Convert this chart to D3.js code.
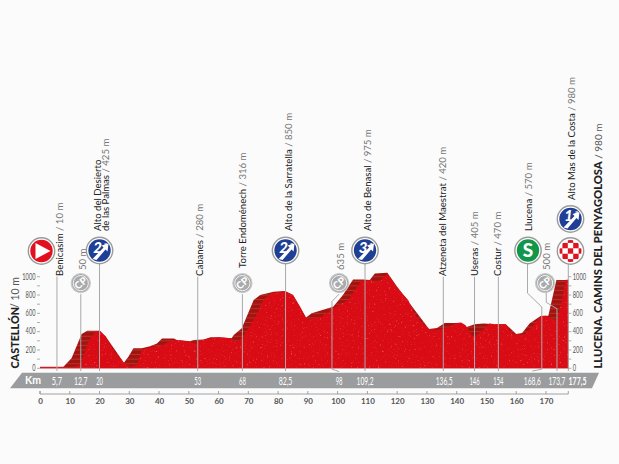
<!DOCTYPE html>
<html><head><meta charset="utf-8">
<script src="https://cdn.jsdelivr.net/npm/d3@7"></script>
<style>html,body{margin:0;padding:0;background:#fbfbfb}svg{display:block}text{font-family:Lato,"Open Sans",sans-serif}</style>
</head><body><div id="c"></div>
<script>
const frontKm=[0,8,11.2,13.4,14.6,15.9,17,18.5,20,22,24.8,26.5,28.2,30.4,32.5,33.3,34.2,37,41.4,43.7,46,50.4,52,53.3,55.4,60,64.4,66,67.8,70,73.3,75,77.8,82.3,85,87.4,89.4,91.3,94.6,98.5,103.6,105.8,108,110.8,113.6,116.7,119.7,123.7,126,127.4,130.7,133.4,136.5,140,141.5,143,145.5,148,151,153,156.5,158.8,162.6,165,168.2,170,173.7,175,176.6,177.5];
const frontElev=[10,10,12,35,120,270,330,390,415,350,190,125,60,20,35,110,205,230,255,300,310,290,270,290,316,338,327,283,327,436,618,745,818,845,800,673,545,545,563,655,745,855,956,964,945,1036,890,745,582,530,430,420,440,495,500,470,340,400,490,480,480,375,365,440,570,575,520,700,965,970];
const backKm=[0,7.8,10.6,14,15.9,19.6,22,28.2,29.7,31.4,34.2,37,39.3,41,45,46,50.4,51.7,55,57.3,60,64.4,65.1,67.8,71.8,74,78.5,82.3,85,89.4,91.3,98.5,101.8,105.2,108.5,110.8,112.5,116.7,120,130.7,133.4,136,139,141,143,146,149,153,156.5,160,162,164.5,168.2,170.8,173.5,177.5];
const backElev=[10,15,110,375,410,410,350,60,125,220,220,240,270,325,325,310,295,310,315,340,338,327,364,436,745,800,836,845,800,555,600,673,800,970,970,964,1036,1043,890,430,440,495,495,495,445,480,490,480,480,375,385,490,570,575,965,965];
const yTicks=[0,200,400,600,800,1000];
const yMinor=[100,300,500,700,900];
const xTicks=[0,10,20,30,40,50,60,70,80,90,100,110,120,130,140,150,160,170];
const placeNames=["Benicasim","Cabanes","Torre Endoménech","Alto de la Sarratella","Alto de Benasal","Atzeneta del Maestrat","Useras","Costur","Llucena","Alto Mas de la Costa"];
const placeHeights=["10 m","280 m","316 m","850 m","975 m","420 m","405 m","470 m","570 m","980 m"];
const placeKm=[5.7,53,68,82.5,109.2,136.5,146,154,168.6,177.5];
const placeBase=[276,276,268,231,231,276,276,276,231,200];
const placeDx=[6,5,4,6,6,0,3,3,-10.3,7];
const bandLabels=["5,7","12,7","20","53","68","82,5","98","109,2","136,5","146","154","168,6","173,7"];
const bandKm=[5.7,13.7,20,53,68,82.5,100.5,109.2,135.8,146,154,165.4,173.7];
const plainLines=[[5.7,1000],[13.7,810],[20,1170],[53,1000],[68,810],[82.5,1170],[109.2,1170],[135.5,1000],[146,1000],[154,1000],[173.7,650],[177.5,1170]];
const elbowLines=[
 [[100.5,810],[98.1,730],[98.1,-10],[100.5,-35]],
 [[163.8,1170],[163.8,820],[168.6,670],[168.6,-10],[165.4,-30]],
 [[170.1,830],[170.1,720],[173.7,650]]
];
const cpBadges=[13.7,68,100.5,169.7];
const catBadges=[[20,"2"],[82.5,"2"],[109.2,"3"]];

const W=619,H=464;
const x=d3.scaleLinear().domain([0,177.5]).range([40,568.3]);
const y=d3.scaleLinear().domain([0,1000]).range([368.3,276.7]);
const svg=d3.select("#c").append("svg").attr("width",W).attr("height",H);
const defs=svg.append("defs");
const area=d3.area().x(d=>x(d[0])).y0(y(0)).y1(d=>y(d[1]));
const front=frontKm.map((k,i)=>[k,frontElev[i]]);
const back=backKm.map((k,i)=>[k,backElev[i]]);
defs.append("clipPath").attr("id","bk").append("path").attr("d",area(back));
defs.append("clipPath").attr("id","fr").append("path").attr("d",area(front));
const f=defs.append("filter").attr("id","sp").attr("x",0).attr("y",0).attr("width",1).attr("height",1);
f.append("feTurbulence").attr("type","fractalNoise").attr("baseFrequency",0.55).attr("numOctaves",2).attr("seed",4);
f.append("feColorMatrix").attr("type","matrix").attr("values","0 0 0 0 1  0 0 0 0 .6  0 0 0 0 .6  2.2 2.2 0 0 -2.6");

// band
svg.append("path").attr("d",d3.line()([[22,372.7],[599,372.7],[592,388.3],[10,388.3]])+"Z").attr("fill","#9a9c9e");

// profile
svg.append("path").attr("d",area(back)).attr("fill","#a3130f");
svg.append("g").attr("clip-path","url(#bk)").selectAll("line").data(d3.range(50,1050,50)).join("line")
 .attr("x1",40).attr("x2",568.3).attr("y1",d=>y(d)).attr("y2",d=>y(d)).attr("stroke","#c25a4e").attr("stroke-width",.5);
svg.append("path").attr("d",area(front)).attr("fill","#d90c15");
svg.append("g").attr("clip-path","url(#fr)").append("rect").attr("x",40).attr("y",270).attr("width",530).attr("height",99).attr("filter","url(#sp)").attr("opacity",.4);
svg.append("line").attr("x1",40).attr("x2",95).attr("y1",y(10)).attr("y2",y(10)).attr("stroke","#c8202a").attr("stroke-width",1.2);

// leader lines
const lg=svg.append("g").attr("fill","none").attr("stroke","#a8a9ab").attr("stroke-width",1);
lg.selectAll("line").data(plainLines).join("line")
 .attr("x1",d=>x(d[0])).attr("x2",d=>x(d[0])).attr("y1",d=>y(d[1])).attr("y2",y(-30));
lg.selectAll("path").data(elbowLines).join("path")
 .attr("d",d=>d3.line().x(p=>x(p[0])).y(p=>y(p[1]))(d));

// y axes
function yAxis(x0,side){
 const g=svg.append("g").attr("stroke","#8d8e90").attr("stroke-width",.7);
 g.selectAll("line").data(yTicks.concat(yMinor)).join("line").attr("x1",x0).attr("x2",x0+side*3).attr("y1",d=>y(d)).attr("y2",d=>y(d));
 svg.append("g").selectAll("text").data(yTicks).join("text").attr("x",x0+side*4.5).attr("y",d=>y(d)+2.8)
  .attr("text-anchor",side<0?"end":"start").attr("font-size",8.5).attr("fill","#555")
  .attr("textLength",d=>String(d).length*3.3).attr("lengthAdjust","spacingAndGlyphs").text(d=>d);
}
yAxis(40,-1);yAxis(568.3,1);

// band text
svg.append("text").attr("x",33).attr("y",384).attr("text-anchor","middle").attr("font-size",10.5).attr("font-weight",700).attr("fill","#fff").text("Km");
svg.append("g").selectAll("text").data(bandLabels).join("text").attr("x",(d,i)=>x(bandKm[i])).attr("y",384.5)
 .attr("text-anchor","middle").attr("font-size",11).attr("fill","#fff")
 .attr("textLength",d=>d.length*3.4).attr("lengthAdjust","spacingAndGlyphs").text(d=>d);
svg.append("text").attr("x",577.5).attr("y",384.5).attr("text-anchor","middle").attr("font-size",11.5).attr("font-weight",700).attr("fill","#fff")
 .attr("textLength",18).attr("lengthAdjust","spacingAndGlyphs").text("177,5");

// x axis
const ax=d3.axisBottom(x).tickValues(xTicks).tickSize(0).tickFormat(d3.format("d"));
const xg=svg.append("g").attr("transform","translate(0,394)").call(ax);
xg.select(".domain").remove();
svg.append("path").attr("d",`M${x(0)},391V394H${x(177.5)}V391`).attr("fill","none").attr("stroke","#8d8e90").attr("stroke-width",.8);
svg.append("g").selectAll("line").data(xTicks).join("line").attr("x1",d=>x(d)).attr("x2",d=>x(d)).attr("y1",391).attr("y2",394).attr("stroke","#8d8e90").attr("stroke-width",.8);
xg.selectAll("text").attr("y",4).attr("dy",".71em").attr("font-size",8).attr("font-weight",700).attr("fill","#555").style("font-family","Lato");

// place labels
function vText(px,base,name,rest,size){
 const t=svg.append("text").attr("transform",`translate(${px},${base}) rotate(-90)`).attr("font-size",size||9.6);
 if(name)t.append("tspan").attr("fill","#222").text(name);
 if(rest)t.append("tspan").attr("fill","#777").text(rest);
}
placeNames.forEach((n,i)=>vText(x(placeKm[i])+placeDx[i],placeBase[i],n," / "+placeHeights[i]));
vText(100.5,231,"Alto del Desierto","");
vText(109,231,"de las Palmas"," / 425 m");
vText(85.5,270,"","50 m");
vText(344,270,"","635 m");
vText(549.5,270,"","500 m");
svg.append("text").attr("transform","translate(18.5,368.5) rotate(-90)").attr("font-size",10.8).attr("font-weight",900).attr("fill","#222").text("CASTELLÓN");
svg.append("text").attr("transform","translate(18.5,308) rotate(-90)").attr("font-size",10.5).attr("fill","#555").text("/ 10 m");
const ll=svg.append("text").attr("transform","translate(601.5,368.5) rotate(-90)").attr("font-size",11.2).attr("fill","#222");
ll.append("tspan").attr("font-weight",900).text("LLUCENA. CAMINS DEL PENYAGOLOSA");
ll.append("tspan").attr("font-size",10).attr("fill","#555").text(" / 980 m");

// badges
function ring(g,r,fill){
 g.append("circle").attr("r",r+1.2).attr("fill","#fff").attr("stroke","#9b9b9b").attr("stroke-width",1.4);
 g.append("circle").attr("r",r-.8).attr("fill",fill);
}
function cat(px,py,lab){
 const g=svg.append("g").attr("transform",`translate(${px},${py})`);
 ring(g,12,"#1f3f95");
 g.append("path").attr("d","M-7,8.5 L4,-3 L2,-5 L9,-7 L8,1 L6,-1 L-3,9.5Z").attr("fill","#fff");
 g.append("text").attr("x",-2).attr("y",2).attr("text-anchor","middle").attr("font-size",15).attr("font-style","italic").attr("font-weight",900).attr("fill","#fff").text(lab);
 g.append("text").attr("x",6).attr("y",-5).attr("text-anchor","middle").attr("font-size",6).attr("font-weight",700).attr("fill","#fff").text("a");
}
const start=svg.append("g").attr("transform","translate(41.5,251)");
ring(start,12,"#e2101f");
start.append("path").attr("d","M-6,-8 L9,0 L-6,8Z").attr("fill","#fff");
catBadges.forEach(b=>cat(x(b[0]),250.5,b[1]));
cat(570.5,219,"1");
cpBadges.forEach(k=>{
 const g=svg.append("g").attr("transform",`translate(${x(k)},${y(930)})`);
 g.append("circle").attr("r",9.6).attr("fill","#a9aaac").attr("stroke","#c9c9c9").attr("stroke-width",1.2);
 g.append("circle").attr("r",7.6).attr("fill","none").attr("stroke","#f2f2f2").attr("stroke-width",1);
 g.append("text").attr("transform","rotate(-40) translate(0,3.5)").attr("text-anchor","middle").attr("font-size",10).attr("font-weight",900).attr("fill","#fff").text("CP");
});
const sp=svg.append("g").attr("transform","translate(528,250.5)");
ring(sp,12,"#12964a");
sp.append("text").attr("y",6.5).attr("text-anchor","middle").attr("font-size",19).attr("font-weight",900).attr("fill","#fff").text("S");
const fin=svg.append("g").attr("transform","translate(570.5,251)");
ring(fin,12,"#fff");
const cs=5.4;
defs.append("clipPath").attr("id","fc").append("circle").attr("r",11);
const fc=fin.append("g").attr("clip-path","url(#fc)");
d3.range(-2,3).forEach(i=>d3.range(-2,3).forEach(j=>{
 if((i+j)%2===0)fc.append("rect").attr("x",i*cs-cs/2).attr("y",j*cs-cs/2).attr("width",cs).attr("height",cs).attr("fill","#dc1420");
}));
</script></body></html>
